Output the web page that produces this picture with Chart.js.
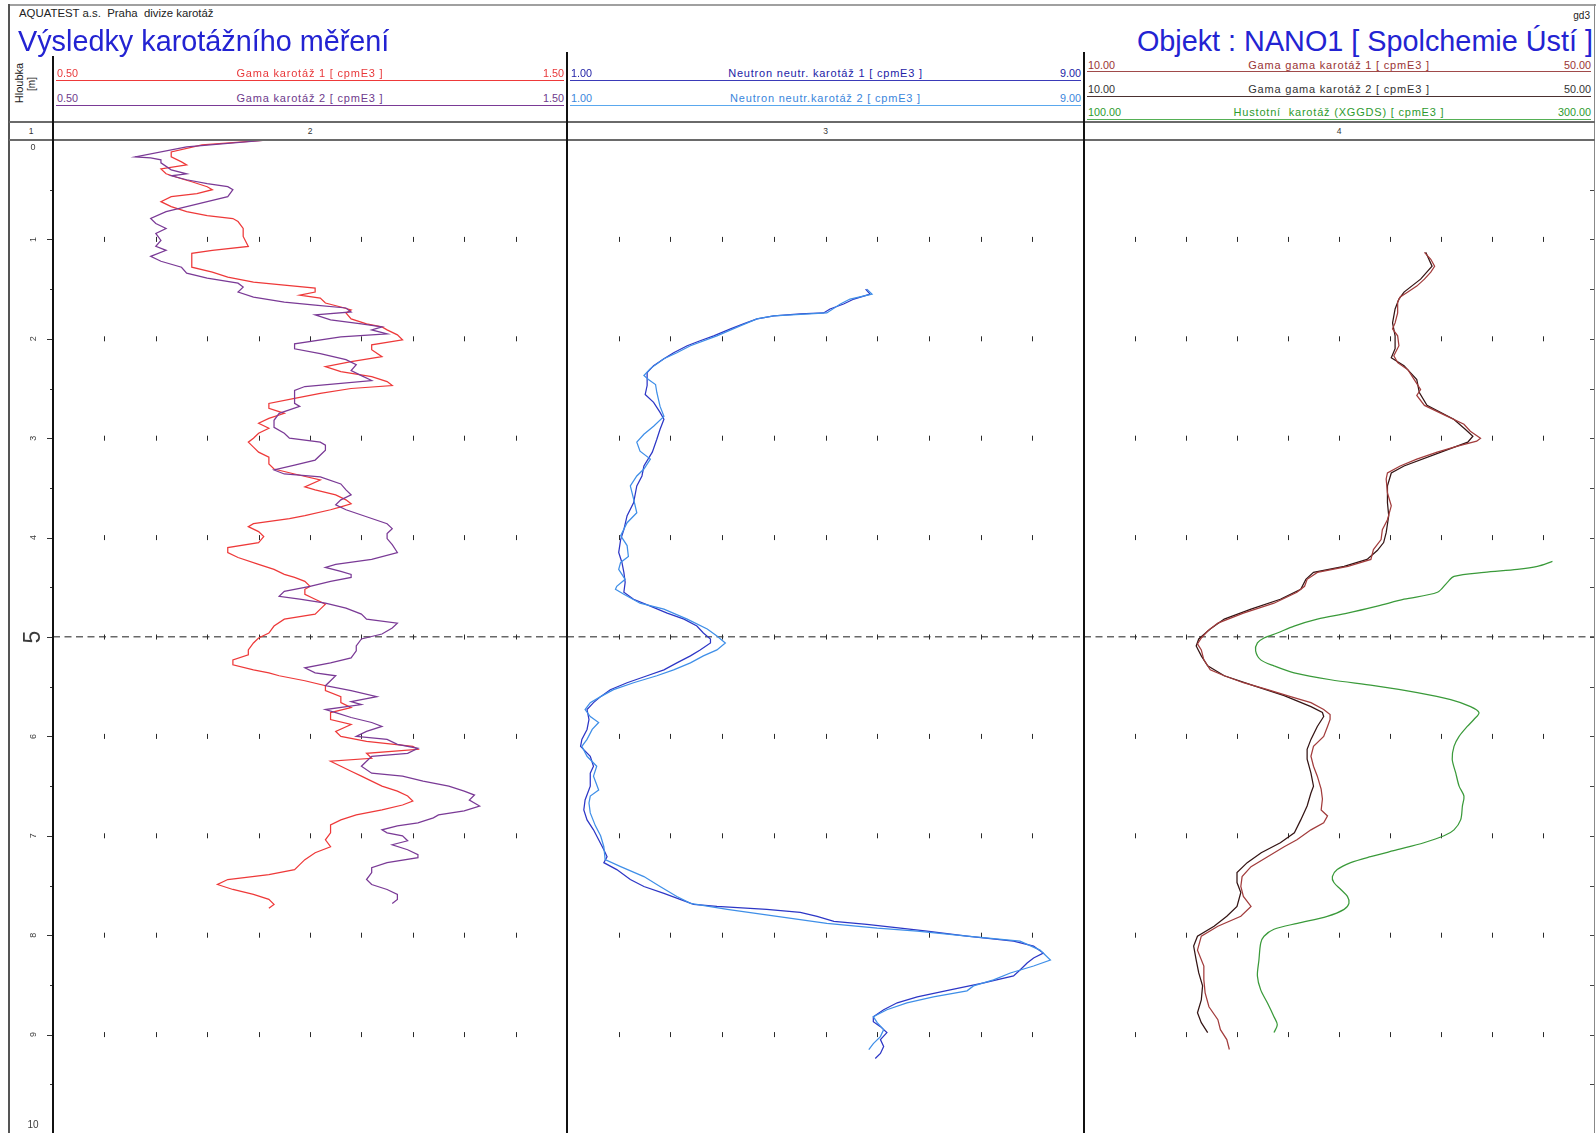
<!DOCTYPE html>
<html lang="cs">
<head>
<meta charset="utf-8">
<title>Výsledky karotážního měření – NANO1</title>
<script src="https://cdn.jsdelivr.net/npm/chart.js@4.4.1/dist/chart.umd.min.js"></script>
<style>
html,body{margin:0;padding:0;background:#fff}
body{position:relative;width:1596px;height:1133px;overflow:hidden;font-family:Arial,"Liberation Sans",Helvetica,sans-serif;color:#222}
.txt{position:absolute;white-space:nowrap}
.rule{position:absolute;z-index:5}
canvas{position:absolute}
</style>
</head>
<body>
<canvas id="trackGamma" style="left:9px;top:140px" width="558" height="994"></canvas>
<canvas id="trackNeutron" style="left:567px;top:140px" width="517" height="994"></canvas>
<canvas id="trackDensity" style="left:1084px;top:140px" width="510" height="994"></canvas>
<script>
// ---------------- depth axis ----------------
const depthMin = 0;
const depthMax = 10;
const depthLabels = ['0', '1', '2', '3', '4', '5', '6', '7', '8', '9', '10'];
const markerDepth = 5;
const trackNumbers = ['1', '2', '3', '4'];

// ---------------- scale ranges [cpmE3] ----------------
const gammaRange = [0.5, 1.5];
const neutronRange = [1, 9];
const ggRange = [10, 50];
const densityRange = [100, 300];

// ---------------- Gama karotáž 1 ----------------
const gama1Depth = [
  0.00,0.05,0.12,0.17,0.22,0.25,0.29,0.34,0.39,0.42,
  0.47,0.50,0.54,0.57,0.62,0.67,0.72,0.76,0.79,0.82,
  0.89,0.97,1.07,1.11,1.14,1.17,1.22,1.28,1.33,1.38,
  1.43,1.46,1.49,1.53,1.56,1.59,1.64,1.68,1.71,1.74,
  1.80,1.85,1.88,1.91,1.96,2.01,2.06,2.11,2.18,2.23,
  2.28,2.33,2.38,2.43,2.47,2.50,2.55,2.60,2.65,2.70,
  2.75,2.80,2.85,2.90,2.95,3.00,3.04,3.09,3.14,3.19,
  3.26,3.31,3.36,3.42,3.49,3.52,3.57,3.62,3.66,3.69,
  3.72,3.78,3.81,3.86,3.89,3.94,3.99,4.05,4.10,4.15,
  4.20,4.27,4.32,4.37,4.40,4.44,4.49,4.52,4.57,4.62,
  4.67,4.72,4.77,4.82,4.89,4.96,5.01,5.06,5.13,5.18,
  5.23,5.28,5.33,5.36,5.39,5.44,5.49,5.54,5.60,5.66,
  5.71,5.76,5.83,5.88,5.95,6.00,6.05,6.10,6.13,6.17,
  6.22,6.25,6.30,6.35,6.40,6.45,6.50,6.55,6.60,6.65,
  6.69,6.74,6.79,6.84,6.89,6.97,7.04,7.11,7.17,7.24,
  7.29,7.34,7.39,7.44,7.49,7.54,7.59,7.64,7.69,7.73
];
const gama1Value = [
  0.92,0.79,0.73,0.73,0.75,0.76,0.71,0.72,0.75,0.77,
  0.80,0.81,0.78,0.73,0.71,0.73,0.76,0.80,0.85,0.86,
  0.87,0.87,0.88,0.81,0.77,0.77,0.77,0.77,0.81,0.84,
  0.89,0.95,1.01,1.01,0.98,1.02,1.03,1.06,1.08,1.07,
  1.08,1.11,1.14,1.15,1.17,1.18,1.12,1.12,1.14,1.08,
  1.03,1.06,1.12,1.15,1.16,1.08,1.02,0.97,0.92,0.92,
  0.95,0.92,0.90,0.92,0.90,0.89,0.88,0.89,0.90,0.92,
  0.92,0.93,0.97,1.02,0.99,1.01,1.05,1.07,1.08,1.06,
  1.04,0.99,0.96,0.89,0.88,0.90,0.91,0.90,0.84,0.84,
  0.86,0.90,0.93,0.95,0.97,0.99,1.00,0.99,0.99,1.01,
  1.03,1.02,1.01,0.95,0.93,0.92,0.90,0.89,0.88,0.88,
  0.85,0.85,0.89,0.92,0.94,0.99,1.03,1.03,1.06,1.06,
  1.08,1.04,1.04,1.08,1.05,1.06,1.11,1.20,1.21,1.11,
  1.12,1.04,1.06,1.08,1.10,1.12,1.14,1.17,1.19,1.20,
  1.18,1.14,1.09,1.06,1.04,1.04,1.03,1.04,1.01,0.99,
  0.98,0.97,0.92,0.84,0.82,0.85,0.89,0.92,0.93,0.92
];

// ---------------- Gama karotáž 2 ----------------
const gama2Depth = [
  0.00,0.07,0.17,0.18,0.20,0.23,0.30,0.34,0.36,0.40,
  0.44,0.47,0.50,0.57,0.62,0.67,0.72,0.79,0.84,0.89,
  0.94,1.01,1.07,1.11,1.17,1.22,1.28,1.34,1.39,1.44,
  1.48,1.53,1.58,1.63,1.66,1.69,1.73,1.76,1.81,1.85,
  1.88,1.91,1.95,1.98,2.05,2.10,2.15,2.21,2.26,2.32,
  2.37,2.42,2.48,2.52,2.58,2.65,2.68,2.75,2.82,2.89,
  2.95,3.00,3.04,3.07,3.12,3.22,3.27,3.32,3.36,3.39,
  3.46,3.52,3.57,3.62,3.67,3.72,3.79,3.86,3.91,3.96,
  4.01,4.07,4.15,4.22,4.27,4.30,4.34,4.37,4.40,4.44,
  4.49,4.54,4.59,4.62,4.66,4.71,4.77,4.82,4.86,4.91,
  4.97,5.02,5.09,5.14,5.21,5.26,5.31,5.36,5.39,5.44,
  5.49,5.54,5.60,5.65,5.68,5.73,5.76,5.81,5.86,5.90,
  5.95,6.00,6.03,6.08,6.12,6.17,6.20,6.25,6.30,6.37,
  6.40,6.45,6.50,6.55,6.59,6.64,6.70,6.75,6.79,6.82,
  6.87,6.90,6.94,6.97,7.00,7.05,7.09,7.14,7.19,7.22,
  7.27,7.32,7.37,7.44,7.49,7.54,7.59,7.64,7.68
];
const gama2Value = [
  0.92,0.76,0.66,0.69,0.71,0.71,0.73,0.76,0.73,0.76,
  0.80,0.84,0.85,0.84,0.80,0.76,0.72,0.69,0.70,0.72,
  0.70,0.71,0.70,0.72,0.69,0.71,0.75,0.76,0.80,0.86,
  0.87,0.86,0.89,0.95,1.01,1.07,1.08,1.01,1.04,1.10,
  1.14,1.12,1.15,1.06,0.97,0.97,1.02,1.07,1.09,1.08,
  1.10,1.12,0.99,0.97,0.97,0.97,0.98,0.94,0.93,0.93,
  0.95,0.96,1.02,1.03,1.03,1.01,0.97,0.93,0.95,1.02,
  1.06,1.07,1.08,1.06,1.05,1.07,1.11,1.15,1.16,1.15,
  1.15,1.16,1.17,1.12,1.05,1.03,1.06,1.08,1.08,1.04,
  1.00,0.95,0.94,0.98,1.03,1.07,1.10,1.11,1.17,1.16,
  1.14,1.10,1.09,1.09,1.08,1.04,0.99,1.01,1.05,1.04,
  1.03,1.08,1.13,1.08,1.10,1.03,1.05,1.08,1.12,1.14,
  1.11,1.09,1.15,1.17,1.21,1.19,1.12,1.11,1.10,1.12,
  1.18,1.22,1.27,1.30,1.32,1.31,1.33,1.30,1.25,1.24,
  1.21,1.17,1.14,1.15,1.18,1.19,1.16,1.19,1.21,1.21,
  1.15,1.12,1.12,1.11,1.12,1.15,1.17,1.17,1.16
];

// ---------------- Neutron neutr. karotáž 1 ----------------
const neutron1Depth = [
  1.50,1.55,1.60,1.65,1.70,1.74,1.75,1.77,1.80,1.85,
  1.90,1.97,2.02,2.07,2.14,2.20,2.27,2.34,2.41,2.47,
  2.56,2.64,2.74,2.81,2.91,3.01,3.14,3.28,3.38,3.48,
  3.65,3.78,3.92,4.02,4.15,4.25,4.35,4.45,4.55,4.62,
  4.69,4.76,4.82,4.89,4.96,5.02,5.06,5.13,5.19,5.26,
  5.33,5.39,5.46,5.53,5.60,5.66,5.73,5.83,5.93,6.03,
  6.10,6.20,6.30,6.37,6.50,6.64,6.74,6.84,6.94,7.04,
  7.14,7.21,7.27,7.34,7.44,7.51,7.58,7.64,7.69,7.71,
  7.74,7.77,7.81,7.86,7.89,7.93,7.96,8.01,8.06,8.11,
  8.18,8.23,8.28,8.35,8.41,8.48,8.55,8.62,8.68,8.75,
  8.82,8.87,8.92,8.98,9.05,9.12,9.19,9.24
];
const neutron1Value = [
  5.62,5.69,5.44,5.28,5.07,4.97,4.61,4.20,3.94,3.73,
  3.53,3.27,3.06,2.86,2.65,2.50,2.34,2.24,2.24,2.24,
  2.21,2.34,2.44,2.50,2.44,2.39,2.32,2.19,2.16,2.08,
  2.03,1.93,1.88,1.83,1.80,1.85,1.88,1.90,1.88,2.03,
  2.29,2.55,2.81,3.01,3.11,3.22,3.22,3.06,2.91,2.70,
  2.50,2.24,1.93,1.67,1.52,1.41,1.31,1.34,1.31,1.23,
  1.21,1.36,1.41,1.36,1.36,1.28,1.26,1.31,1.41,1.49,
  1.57,1.62,1.57,1.77,1.98,2.19,2.50,2.75,2.96,3.32,
  4.09,4.61,4.87,5.13,5.64,6.16,6.57,7.19,7.91,8.22,
  8.37,8.22,8.12,8.01,7.91,7.45,6.93,6.42,6.11,5.90,
  5.74,5.74,5.85,5.95,5.85,5.90,5.85,5.77
];

// ---------------- Neutron neutr. karotáž 2 ----------------
const neutron2Depth = [
  1.50,1.55,1.60,1.65,1.74,1.77,1.80,1.87,1.97,2.07,
  2.14,2.20,2.30,2.37,2.41,2.46,2.54,2.68,2.78,2.88,
  2.96,3.04,3.13,3.21,3.31,3.38,3.48,3.61,3.75,3.85,
  3.98,4.08,4.19,4.25,4.32,4.42,4.49,4.52,4.57,4.66,
  4.72,4.82,4.92,4.99,5.06,5.13,5.19,5.26,5.33,5.39,
  5.46,5.53,5.60,5.66,5.73,5.80,5.86,5.93,6.03,6.10,
  6.20,6.30,6.40,6.54,6.60,6.67,6.77,6.90,7.00,7.11,
  7.24,7.31,7.41,7.51,7.61,7.68,7.74,7.81,7.88,7.93,
  7.96,8.01,8.06,8.15,8.25,8.31,8.38,8.45,8.51,8.56,
  8.62,8.68,8.75,8.82,8.88,8.95,9.02,9.09,9.15
];
const neutron2Value = [
  5.64,5.72,5.38,5.23,5.02,4.20,3.94,3.68,3.32,2.91,
  2.70,2.50,2.29,2.19,2.26,2.37,2.39,2.44,2.50,2.34,
  2.19,2.08,2.13,2.29,2.19,2.08,1.98,2.03,2.08,1.93,
  1.83,1.93,1.95,1.83,1.80,1.90,1.77,1.75,1.88,2.13,
  2.50,2.86,3.17,3.32,3.45,3.32,3.11,2.91,2.65,2.39,
  2.03,1.72,1.52,1.36,1.28,1.36,1.49,1.39,1.31,1.23,
  1.31,1.46,1.41,1.49,1.36,1.34,1.36,1.44,1.52,1.57,
  1.59,1.83,2.19,2.44,2.70,2.91,3.48,4.25,5.02,5.80,
  6.42,7.19,8.01,8.32,8.48,8.22,7.86,7.60,7.29,7.19,
  6.67,6.26,5.95,5.74,5.80,5.90,5.85,5.74,5.67
];

// ---------------- Gama gama karotáž 1 ----------------
const gg1Depth = [
  1.13,1.20,1.27,1.33,1.40,1.47,1.53,1.58,1.63,1.74,
  1.84,1.90,1.97,2.07,2.17,2.24,2.31,2.41,2.51,2.57,
  2.67,2.78,2.86,2.93,3.00,3.03,3.08,3.14,3.21,3.28,
  3.35,3.41,3.55,3.68,3.82,3.92,4.02,4.12,4.22,4.29,
  4.35,4.42,4.49,4.55,4.66,4.76,4.86,4.94,5.01,5.07,
  5.13,5.23,5.33,5.39,5.46,5.53,5.60,5.66,5.73,5.78,
  5.83,5.90,6.00,6.10,6.20,6.30,6.40,6.53,6.63,6.74,
  6.80,6.87,6.94,7.04,7.11,7.21,7.31,7.41,7.51,7.61,
  7.71,7.81,7.91,8.01,8.15,8.31,8.45,8.58,8.72,8.85,
  8.95,9.05,9.15
];
const gg1Value = [
  36.7,37.2,37.5,37.2,36.7,36.1,35.4,34.8,34.6,34.6,
  34.4,34.2,34.6,34.7,34.3,34.6,35.4,35.9,36.4,36.1,
  36.7,38.5,39.8,40.3,41.1,40.8,39.3,37.7,36.1,34.8,
  33.8,33.7,33.8,34.1,33.8,33.4,33.3,32.7,32.5,30.7,
  28.3,27.5,27.3,26.7,24.9,22.5,20.5,19.7,19.2,18.9,
  19.2,19.4,19.9,21.0,22.5,24.4,26.2,27.8,28.8,29.3,
  29.3,29.1,28.8,28.0,27.8,28.0,28.3,28.6,28.7,28.6,
  29.1,28.8,27.8,26.7,25.7,24.4,23.1,22.4,22.3,22.5,
  23.1,22.3,20.5,19.2,18.9,19.4,19.4,19.5,19.8,20.5,
  20.7,21.2,21.4
];

// ---------------- Gama gama karotáž 2 ----------------
const gg2Depth = [
  1.13,1.27,1.40,1.53,1.60,1.70,1.84,1.97,2.10,2.19,
  2.27,2.41,2.54,2.67,2.81,2.91,2.98,3.04,3.14,3.28,
  3.35,3.48,3.65,3.78,3.95,4.05,4.13,4.22,4.29,4.35,
  4.42,4.52,4.62,4.72,4.82,4.92,5.02,5.09,5.19,5.29,
  5.39,5.49,5.59,5.70,5.76,5.80,5.90,6.03,6.13,6.23,
  6.37,6.50,6.57,6.70,6.84,6.97,7.07,7.17,7.27,7.37,
  7.47,7.57,7.71,7.81,7.91,8.01,8.11,8.25,8.38,8.51,
  8.65,8.78,8.88,8.98
];
const gg2Value = [
  36.8,37.3,36.4,35.1,34.7,34.4,34.2,34.4,34.4,34.1,
  35.1,36.1,36.3,36.9,39.0,39.9,40.5,40.1,38.0,35.1,
  34.1,33.8,33.8,33.9,33.7,33.5,33.0,32.2,30.4,28.0,
  27.4,27.0,25.4,23.1,21.0,19.9,19.0,18.8,19.2,19.7,
  21.0,23.3,25.7,27.8,28.7,28.8,28.3,27.8,27.5,27.5,
  27.8,28.0,27.8,27.5,27.0,26.5,25.4,23.9,22.8,22.0,
  22.0,22.3,22.0,21.2,20.2,18.9,18.6,18.8,19.0,19.3,
  19.2,18.9,19.2,19.7
];

// ---------------- Hustotní karotáž (XGGDS) ----------------
const densityDepth = [
  4.24,4.29,4.32,4.35,4.39,4.45,4.55,4.62,4.69,4.76,
  4.82,4.89,4.96,5.01,5.06,5.14,5.23,5.29,5.36,5.43,
  5.49,5.56,5.63,5.70,5.76,5.83,5.90,6.00,6.10,6.23,
  6.37,6.50,6.60,6.70,6.84,6.94,7.00,7.07,7.14,7.21,
  7.27,7.34,7.41,7.47,7.54,7.61,7.68,7.74,7.81,7.88,
  7.94,8.01,8.08,8.25,8.41,8.55,8.68,8.82,8.90,8.98
];
const densityValue = [
  283.7,277.8,269.9,256.9,245.1,242.5,238.6,225.5,215.0,203.3,
  191.5,182.4,175.8,170.6,168.0,167.3,169.3,174.5,182.4,196.7,
  213.7,230.7,243.8,251.6,254.9,252.9,250.3,247.1,245.1,244.4,
  245.8,247.1,249.0,248.4,247.7,245.1,241.2,233.3,222.9,212.4,
  204.6,199.3,197.4,198.0,200.7,203.3,203.9,202.0,195.4,183.7,
  174.5,170.6,169.3,168.6,168.0,169.3,171.9,174.5,175.8,174.5
];

// ---------------- page geometry ----------------
const TRACK = { depth: [9, 53], gamma: [53, 567], neutron: [567, 1084], density: [1084, 1594] };

const COLORS = {
  gama1: '#ee3939', gama2: '#7a3a96',
  neutron1: '#2c36c6', neutron2: '#3f8fe8',
  gg1: '#a23c3c', gg2: '#341414', density: '#3a9a3a'
};

// ---------------- helpers for header text and rules ----------------
function addText(str, x, y, o) {
  const d = document.createElement('div');
  d.className = 'txt';
  d.textContent = str;
  const align = o.align || 'left';
  const tx = align === 'center' ? '-50%' : align === 'right' ? '-100%' : '0';
  d.style.left = x + 'px';
  d.style.top = y + 'px';
  d.style.fontSize = (o.size || 11) + 'px';
  d.style.lineHeight = '1';
  d.style.color = o.color || '#222';
  if (o.spacing) d.style.letterSpacing = o.spacing + 'px';
  d.style.transform = o.rotate
    ? `translate(-50%,-50%) rotate(${o.rotate}deg)`
    : `translate(${tx},-50%)`;
  d.style.zIndex = 6;
  document.body.appendChild(d);
}
function addRule(x, y, w, h, color) {
  const d = document.createElement('div');
  d.className = 'rule';
  Object.assign(d.style, { left: x + 'px', top: y + 'px', width: w + 'px', height: h + 'px', background: color });
  document.body.appendChild(d);
}

// ---------------- page header ----------------
addText('AQUATEST a.s.\u00a0 Praha\u00a0 divize karotáž', 19, 14, { size: 11.4 });
addText('gd3', 1590, 16, { size: 10, align: 'right' });
addText('Výsledky karotážního měření', 18, 41, { size: 28.8, color: '#2323d2' });
addText('Objekt : NANO1 [ Spolchemie Ústí ]', 1593, 41, { size: 28.8, color: '#2323d2', align: 'right' });
addText('Hloubka', 19, 83, { size: 11, rotate: -90 });
addText('[m]', 32, 84, { size: 10, rotate: -90 });

// curve header rows: track, row position, label, range, colours
const headerRows = [
  { track: 'gamma', y: 73, line: 80, label: 'Gama karotáž 1 [ cpmE3 ]', range: gammaRange, color: COLORS.gama1, text: '#e8383a' },
  { track: 'gamma', y: 98, line: 105, label: 'Gama karotáž 2 [ cpmE3 ]', range: gammaRange, color: COLORS.gama2, text: '#6e3a8c' },
  { track: 'neutron', y: 73, line: 80, label: 'Neutron neutr. karotáž 1 [ cpmE3 ]', range: neutronRange, color: '#3a3ab8', text: '#2222a6' },
  { track: 'neutron', y: 98, line: 105, label: 'Neutron neutr.karotáž 2 [ cpmE3 ]', range: neutronRange, color: '#5aa8ee', text: '#3a86dc' },
  { track: 'density', y: 65, line: 71, label: 'Gama gama karotáž 1 [ cpmE3 ]', range: ggRange, color: '#a04a4a', text: '#9a3434' },
  { track: 'density', y: 89, line: 96, label: 'Gama gama karotáž 2 [ cpmE3 ]', range: ggRange, color: '#4a3030', text: '#333' },
  { track: 'density', y: 112, line: 119, label: 'Hustotní  karotáž (XGGDS) [ cpmE3 ]', range: densityRange, color: '#55b055', text: '#2e9a2e' }
];
headerRows.forEach(r => {
  const [l, rt] = TRACK[r.track];
  addText(r.range[0].toFixed(2), l + 4, r.y, { size: 10.8, color: r.text });
  addText(r.range[1].toFixed(2), rt - 3, r.y, { size: 10.8, color: r.text, align: 'right' });
  addText(r.label.replace(/ {2}/g, '\u00a0 '), (l + rt) / 2, r.y, { size: 11, color: r.text, align: 'center', spacing: 0.8 });
  addRule(l + 3, r.line, rt - l - 6, 1, r.color);
});

// track numbers row
[TRACK.depth, TRACK.gamma, TRACK.neutron, TRACK.density].forEach((t, i) => {
  addText(trackNumbers[i], (t[0] + t[1]) / 2, 131, { size: 8.5, color: '#333', align: 'center' });
});

// frame and track separators
addRule(8, 4, 1588, 2, '#a0a0a0');
addRule(8, 4, 2, 1129, '#555');
addRule(1594, 4, 1, 1129, '#888');
addRule(9, 121, 1586, 2, '#6a6a6a');
addRule(9, 139, 1586, 2, '#6a6a6a');
addRule(52, 56, 1.6, 1077, '#111');
addRule(566, 52, 1.6, 1081, '#111');
addRule(1083, 52, 1.6, 1081, '#111');

// ---------------- Chart.js tracks ----------------
function valueAxis(range) {
  const [min, max] = range;
  return {
    type: 'linear', position: 'bottom', min, max, display: false,
    ticks: { stepSize: (max - min) / 10 }
  };
}
function depthAxis(width) {
  return {
    type: 'linear', position: 'left', reverse: true, min: depthMin, max: depthMax,
    ticks: { display: false, stepSize: 0.5 },
    grid: {
      drawTicks: false, lineWidth: 1.6,
      color: c => (c.tick && c.tick.value === markerDepth) ? '#686868' : 'rgba(0,0,0,0)'
    },
    border: { display: false, dash: [7, 4.5] },
    afterFit: s => { s.width = width; }
  };
}
function series(depths, values, color, axis, tension) {
  return {
    data: depths.map((d, i) => ({ x: values[i], y: d })),
    xAxisID: axis, yAxisID: 'y',
    borderColor: color, borderWidth: 1.25, showLine: true,
    pointRadius: 0, fill: false, tension: tension || 0
  };
}

// short vertical grid marks: every tenth of the track scale at each whole metre
const gridMarks = {
  id: 'gridMarks',
  beforeDatasetsDraw(chart) {
    const { ctx, scales } = chart;
    const xs = scales.x, y = scales.y;
    ctx.save();
    ctx.strokeStyle = '#2a2a2a';
    ctx.lineWidth = 1;
    xs.ticks.forEach((t, i) => {
      if (i === 0 || i === xs.ticks.length - 1) return;
      const px = Math.round(xs.getPixelForValue(t.value)) + 0.5;
      for (let d = depthMin + 1; d < depthMax; d++) {
        const py = y.getPixelForValue(d);
        ctx.beginPath(); ctx.moveTo(px, py - 2.5); ctx.lineTo(px, py + 2.5); ctx.stroke();
      }
    });
    ctx.restore();
  }
};

// depth column: tick marks and depth numbers
const depthColumn = {
  id: 'depthColumn',
  afterDraw(chart) {
    const { ctx, chartArea: { left }, scales: { y } } = chart;
    ctx.save();
    ctx.strokeStyle = '#333';
    ctx.lineWidth = 1;
    y.ticks.forEach(t => {
      if (t.value <= depthMin || t.value >= depthMax) return;
      const py = Math.round(y.getPixelForValue(t.value)) + 0.5;
      const len = Number.isInteger(t.value) ? 6 : 3;
      ctx.beginPath(); ctx.moveTo(left - len, py); ctx.lineTo(left, py); ctx.stroke();
    });
    ctx.fillStyle = '#3c3c3c';
    ctx.textAlign = 'center';
    ctx.textBaseline = 'middle';
    const cx = left - 20;
    depthLabels.forEach((lab, i) => {
      const v = depthMin + i;
      const py = y.getPixelForValue(v);
      if (v === depthMin) { ctx.font = '9px Arial'; ctx.fillText(lab, cx, py + 8); return; }
      if (v === depthMax) { ctx.font = '10px Arial'; ctx.fillText(lab, cx, py - 9); return; }
      ctx.save();
      ctx.translate(cx, py);
      ctx.rotate(-Math.PI / 2);
      ctx.font = v === markerDepth ? '23px Arial' : '9px Arial';
      ctx.fillText(lab, 0, 1);
      ctx.restore();
    });
    ctx.restore();
  }
};

// short depth ticks on the right edge of the last track
const edgeTicks = {
  id: 'edgeTicks',
  afterDraw(chart) {
    const { ctx, chartArea: { right }, scales: { y } } = chart;
    ctx.save();
    ctx.strokeStyle = '#444';
    ctx.lineWidth = 1;
    y.ticks.forEach(t => {
      if (t.value <= depthMin || t.value >= depthMax) return;
      const py = Math.round(y.getPixelForValue(t.value)) + 0.5;
      ctx.beginPath(); ctx.moveTo(right - 4, py); ctx.lineTo(right, py); ctx.stroke();
    });
    ctx.restore();
  }
};

const baseOptions = {
  responsive: false, animation: false, events: [],
  layout: { padding: 0 },
  plugins: { legend: { display: false }, tooltip: { enabled: false } }
};

new Chart(document.getElementById('trackGamma'), {
  type: 'scatter',
  data: { datasets: [
    series(gama2Depth, gama2Value, COLORS.gama2, 'x'),
    series(gama1Depth, gama1Value, COLORS.gama1, 'x')
  ] },
  options: Object.assign({}, baseOptions, {
    scales: { x: valueAxis(gammaRange), y: depthAxis(TRACK.depth[1] - TRACK.depth[0]) }
  }),
  plugins: [gridMarks, depthColumn]
});

new Chart(document.getElementById('trackNeutron'), {
  type: 'scatter',
  data: { datasets: [
    series(neutron2Depth, neutron2Value, COLORS.neutron2, 'x'),
    series(neutron1Depth, neutron1Value, COLORS.neutron1, 'x')
  ] },
  options: Object.assign({}, baseOptions, {
    scales: { x: valueAxis(neutronRange), y: depthAxis(0) }
  }),
  plugins: [gridMarks]
});

new Chart(document.getElementById('trackDensity'), {
  type: 'scatter',
  data: { datasets: [
    series(densityDepth, densityValue, COLORS.density, 'xd', 0.3),
    series(gg1Depth, gg1Value, COLORS.gg1, 'x'),
    series(gg2Depth, gg2Value, COLORS.gg2, 'x')
  ] },
  options: Object.assign({}, baseOptions, {
    scales: { x: valueAxis(ggRange), xd: valueAxis(densityRange), y: depthAxis(0) }
  }),
  plugins: [gridMarks, edgeTicks]
});
</script>
</body>
</html>
